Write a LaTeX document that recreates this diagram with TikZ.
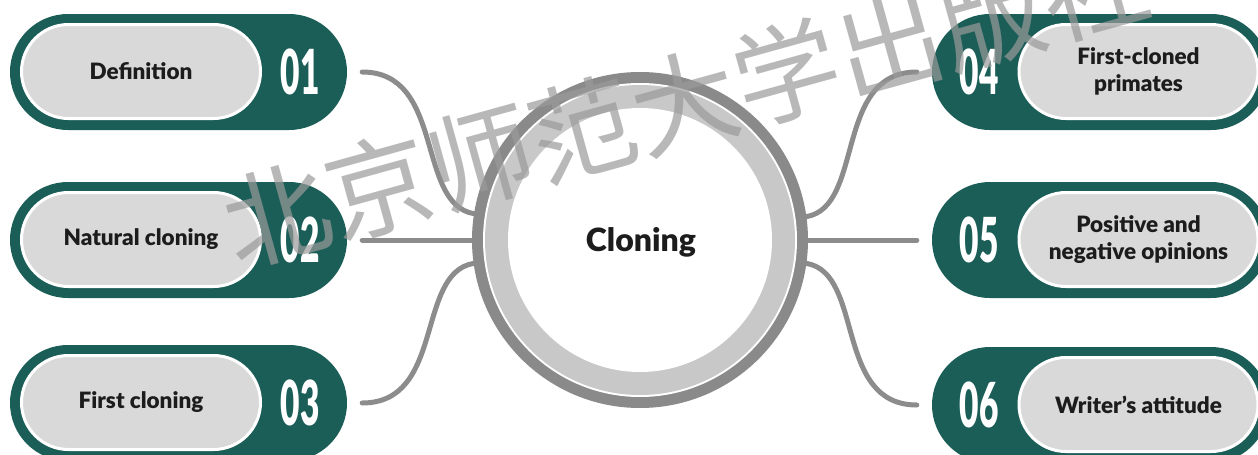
\documentclass[tikz,border=0pt]{standalone}
\usepackage{fontspec}
\setmainfont{Lato}[BoldFont={* Black}]
\newfontfamily\cjkfont{Noto Sans CJK SC}
\usepackage{xcolor}
\definecolor{Teal}{HTML}{1B5E58}
\definecolor{PillGray}{HTML}{D9D9D9}
\definecolor{LinkGray}{HTML}{8C8C8C}
\definecolor{RingDark}{HTML}{8A8A8A}
\definecolor{RingLight}{HTML}{C8C8C8}
\definecolor{TextInk}{HTML}{1C1C1C}
\definecolor{MarkGray}{HTML}{9A9A9A}

\begin{document}
\begin{tikzpicture}[x=1pt,y=-1pt,
  outerpill/.style={fill=Teal,rounded corners=58pt,minimum width=337pt,minimum height=116pt,inner sep=0pt},
  innerpill/.style={fill=PillGray,draw=white,line width=3pt,rounded corners=47pt,minimum width=239pt,minimum height=94pt,
    inner sep=0pt,align=center,text=TextInk,font=\bfseries\fontsize{22.5}{27}\selectfont},
  numlabel/.style={text=white,font=\bfseries\fontsize{62}{62}\selectfont},
  link/.style={LinkGray,line width=5pt,line cap=round}]
\useasboundingbox (0,0) rectangle (1258,455);
\clip (0,0) rectangle (1258,455);
\fill[white] (0,0) rectangle (1258,455);
\node[outerpill] (b1) at (178.5,72) {};
\node[outerpill] (b2) at (178.5,240) {};
\node[outerpill] (b3) at (178.5,403) {};
\node[outerpill] (b4) at (1100.5,72) {};
\node[outerpill] (b5) at (1100.5,240) {};
\node[outerpill] (b6) at (1100.5,405) {};
\node[innerpill] (t1) at (141,71.5) {Definition};
\node[innerpill] (t2) at (141,239.5) {Natural cloning};
\node[innerpill] (t3) at (141,402.5) {First cloning};
\node[innerpill] (t4) at (1138.5,71.5) {First-cloned\\primates};
\node[innerpill] (t5) at (1138.5,239.5) {Positive and\\negative opinions};
\node[innerpill] (t6) at (1138.5,404.5) {Writer's attitude};
\foreach \n/\x/\y in {01/300/72,02/300/240,03/300/403,04/979/72,05/979/240,06/979/405}
  \node[numlabel] (n\n) at (\x,\y) {\scalebox{0.54}[1]{\n}};
\node[circle,minimum size=336pt,inner sep=0pt] (hub) at (640,240) {};
\draw[link] ([xshift=15pt]b1.east) .. controls +(83,0) and +(-58,-10) .. (hub.171.5);
\draw[link] ([xshift=15pt]b2.east) -- (hub.west);
\draw[link] ([xshift=15pt]b3.east) .. controls +(83,0) and +(-58,10) .. (hub.188.5);
\draw[link] ([xshift=-15pt]b4.west) .. controls +(-83,0) and +(58,-10) .. (hub.8.5);
\draw[link] ([xshift=-15pt]b5.west) -- (hub.east);
\draw[link] ([xshift=-15pt]b6.west) .. controls +(-83,0) and +(58,10) .. (hub.-8.5);
\fill[RingDark] (hub.center) circle (168);
\fill[white] (hub.center) circle (157);
\fill[RingLight] (hub.center) circle (155);
\fill[white] (hub.center) circle (132);
\node[text=TextInk,font=\bfseries\fontsize{32}{32}\selectfont] (core) at (641,242) {Cloning};
\node[rotate=15.5,text=MarkGray,text opacity=0.7,font=\cjkfont\fontsize{106}{106}\selectfont] (mark) at (685,101) {北京师范大学出版社};
\end{tikzpicture}
\end{document}
